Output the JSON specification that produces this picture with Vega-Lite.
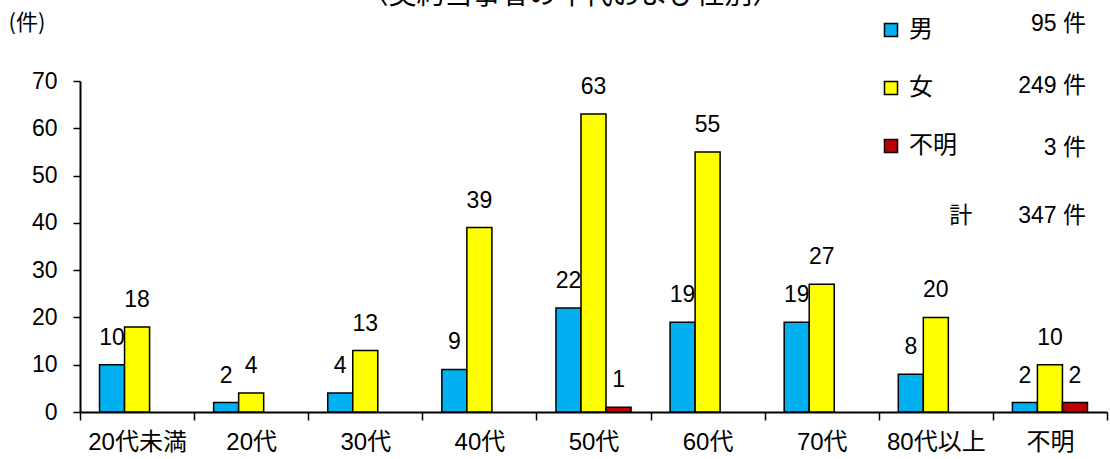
{
  "$schema": "https://vega.github.io/schema/vega-lite/v6.json",
  "autosize": {"type": "none"},
  "width": 1027,
  "height": 331,
  "padding": {"left": 80, "top": 81, "right": 3, "bottom": 47},
  "background": "white",
  "config": {
    "font": "Liberation Sans, Noto Sans CJK JP, sans-serif",
    "view": {"stroke": null},
    "axis": {"grid": false, "labelColor": "black", "domainColor": "black", "tickColor": "black", "labelFontSize": 23, "labelFont": "Liberation Sans, Noto Sans CJK JP, sans-serif"},
    "legend": {"labelFont": "Liberation Sans, Noto Sans CJK JP, sans-serif"}
  },
  "title": {
    "text": "〈契約当事者の年代および性別〉",
    "fontSize": 28,
    "fontWeight": "normal",
    "color": "black",
    "anchor": "middle",
    "dx": -23,
    "dy": 59,
    "offset": 6,
    "baseline": "alphabetic",
    "font": "Noto Sans CJK JP"
  },
  "datasets": {
    "counts": [
      {"age": "20代未満", "sex": "男", "value": 10},
      {"age": "20代未満", "sex": "女", "value": 18},
      {"age": "20代", "sex": "男", "value": 2},
      {"age": "20代", "sex": "女", "value": 4},
      {"age": "30代", "sex": "男", "value": 4},
      {"age": "30代", "sex": "女", "value": 13},
      {"age": "40代", "sex": "男", "value": 9},
      {"age": "40代", "sex": "女", "value": 39},
      {"age": "50代", "sex": "男", "value": 22},
      {"age": "50代", "sex": "女", "value": 63},
      {"age": "50代", "sex": "不明", "value": 1},
      {"age": "60代", "sex": "男", "value": 19},
      {"age": "60代", "sex": "女", "value": 55},
      {"age": "70代", "sex": "男", "value": 19},
      {"age": "70代", "sex": "女", "value": 27},
      {"age": "80代以上", "sex": "男", "value": 8},
      {"age": "80代以上", "sex": "女", "value": 20},
      {"age": "不明", "sex": "男", "value": 2},
      {"age": "不明", "sex": "女", "value": 10},
      {"age": "不明", "sex": "不明", "value": 2}
    ],
    "totals": [
      {"sex": "男", "total": 95},
      {"sex": "女", "total": 249},
      {"sex": "不明", "total": 3}
    ]
  },
  "layer": [
    {
      "data": {"name": "counts"},
      "mark": {"type": "bar", "stroke": "black", "strokeWidth": 1.5},
      "encoding": {
        "x": {
          "field": "age", "type": "nominal",
          "sort": ["20代未満", "20代", "30代", "40代", "50代", "60代", "70代", "80代以上", "不明"],
          "scale": {"paddingInner": 0, "paddingOuter": 0},
          "axis": {"title": null, "labelAngle": 0, "tickBand": "extent", "tickSize": 8, "tickWidth": 1.5, "domainWidth": 2, "labelPadding": 10, "labelFontSize": 24}
        },
        "xOffset": {
          "field": "sex", "type": "nominal",
          "scale": {"domain": ["男", "女", "不明"], "paddingInner": 0, "paddingOuter": 0.78}
        },
        "y": {
          "field": "value", "type": "quantitative",
          "scale": {"domain": [0, 70], "nice": false},
          "axis": {
            "values": [0, 10, 20, 30, 40, 50, 60, 70],
            "tickSize": 7, "tickWidth": 1.5, "domainWidth": 2, "labelPadding": 16,
            "title": "(件)", "titleAngle": 0, "titleFontSize": 22, "titleFontWeight": "normal",
            "titleX": -72, "titleY": -52, "titleAlign": "left", "titleBaseline": "alphabetic", "titleColor": "black",
            "titleFont": "Noto Sans CJK JP"
          }
        },
        "color": {
          "field": "sex", "type": "nominal",
          "scale": {"domain": ["男", "女", "不明"], "range": ["#00B0F0", "#FFFF00", "#C00000"]},
          "legend": {
            "title": null, "orient": "none", "legendX": 799, "legendY": -63,
            "symbolType": "square", "symbolSize": 170, "symbolStrokeColor": "black", "symbolStrokeWidth": 1.5,
            "symbolOpacity": 1,
            "labelFontSize": 24, "labelColor": "black", "labelOffset": 6, "rowPadding": 34, "padding": 0,
            "labelFont": "Noto Sans CJK JP"
          }
        }
      }
    },
    {
      "data": {"name": "counts"},
      "mark": {"type": "text", "fontSize": 23, "baseline": "alphabetic", "dy": -20, "color": "black"},
      "encoding": {
        "x": {"field": "age", "type": "nominal", "sort": ["20代未満", "20代", "30代", "40代", "50代", "60代", "70代", "80代以上", "不明"]},
        "xOffset": {"field": "sex", "type": "nominal"},
        "y": {"field": "value", "type": "quantitative"},
        "text": {"field": "value", "type": "quantitative"}
      }
    },
    {
      "data": {"name": "totals"},
      "mark": {"type": "point", "opacity": 0},
      "encoding": {
        "size": {
          "field": "total", "type": "ordinal",
          "scale": {"domain": [95, 249, 3], "range": [8100, 8100]},
          "legend": {
            "title": "計\u3000\u3000347 件", "titleOrient": "bottom", "titleFontSize": 23, "titleFontWeight": "normal", "titleColor": "black",
            "titleAnchor": "end", "titlePadding": 45, "titleBaseline": "top",
            "orient": "none", "legendX": 869, "legendY": -102,
            "symbolType": "M-1,-0.05L1,-0.05L1,0.05L-1,0.05Z",
            "labelExpr": "datum.label + ' 件'",
            "labelAlign": "right", "labelOffset": 0, "labelFontSize": 23, "labelColor": "black",
            "rowPadding": 5, "padding": 0, "symbolOpacity": 0, "symbolStrokeWidth": 0
          }
        }
      }
    }
  ]
}
